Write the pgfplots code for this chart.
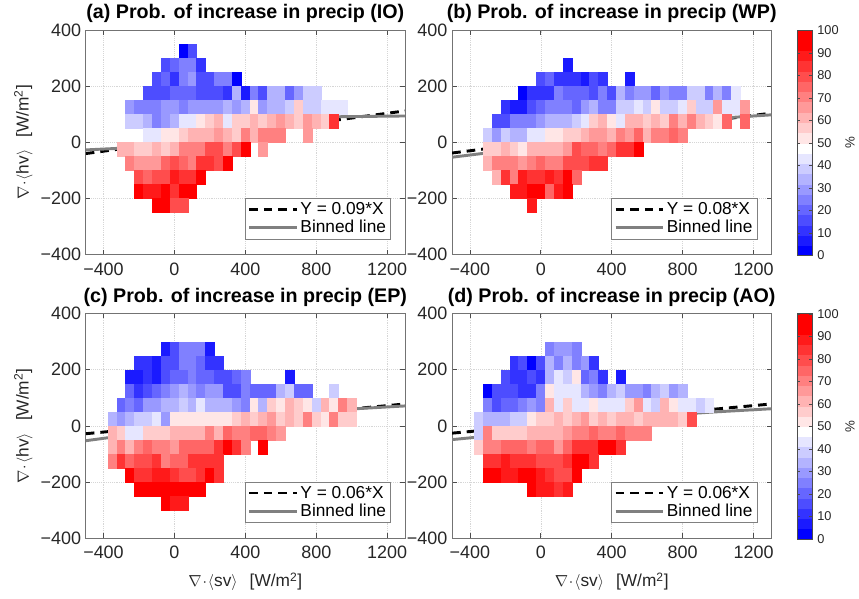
\documentclass[border=0pt]{standalone}
\usepackage{fontspec}
\setmainfont{Liberation Sans}
\usepackage{pgfplots}
\usepackage{pgfplotstable}
\pgfplotsset{compat=1.18}

% binned probabilities: x (sv), y (hv), p (%)
\pgfplotstableread[row sep=\\]{
x y p\\
50 325 2\\ 100 325 17\\
-50 275 17\\ 0 275 21\\ 50 275 26\\ 100 275 26\\ 150 275 12\\
-100 225 17\\ -50 225 21\\ 0 225 12\\ 50 225 26\\ 100 225 31\\ 150 225 17\\ 200 225 17\\ 250 225 26\\ 300 225 26\\ 350 225 2\\
-150 175 17\\ -100 175 17\\ -50 175 17\\ 0 175 21\\ 50 175 21\\ 100 175 21\\ 150 175 17\\ 200 175 17\\ 250 175 17\\ 300 175 12\\ 350 175 36\\ 400 175 7\\ 450 175 26\\ 500 175 17\\ 550 175 36\\ 600 175 36\\ 650 175 21\\ 700 175 31\\ 750 175 40\\ 800 175 40\\
-250 125 31\\ -200 125 26\\ -150 125 26\\ -100 125 26\\ -50 125 31\\ 0 125 31\\ 50 125 26\\ 100 125 31\\ 150 125 31\\ 200 125 31\\ 250 125 31\\ 300 125 36\\ 350 125 31\\ 400 125 36\\ 450 125 50\\ 500 125 31\\ 550 125 36\\ 600 125 36\\ 650 125 40\\ 700 125 55\\ 750 125 40\\ 800 125 40\\ 850 125 45\\ 900 125 45\\ 950 125 45\\
-250 75 40\\ -200 75 40\\ -150 75 36\\ -100 75 26\\ -50 75 31\\ 0 75 36\\ 50 75 45\\ 100 75 45\\ 150 75 50\\ 200 75 55\\ 250 75 60\\ 300 75 45\\ 350 75 55\\ 400 75 55\\ 450 75 60\\ 500 75 55\\ 550 75 60\\ 600 75 64\\ 650 75 60\\ 700 75 55\\ 750 75 64\\ 800 75 60\\ 850 75 55\\ 900 75 83\\
-150 25 45\\ -100 25 45\\ -50 25 50\\ 0 25 50\\ 50 25 55\\ 100 25 60\\ 150 25 60\\ 200 25 60\\ 250 25 64\\ 300 25 60\\ 350 25 55\\ 400 25 69\\ 450 25 60\\ 500 25 69\\ 550 25 69\\ 600 25 69\\ 750 25 64\\
-300 -25 60\\ -250 -25 60\\ -200 -25 55\\ -150 -25 55\\ -100 -25 60\\ -50 -25 55\\ 0 -25 60\\ 50 -25 69\\ 100 -25 69\\ 150 -25 69\\ 200 -25 79\\ 250 -25 79\\ 300 -25 69\\ 350 -25 79\\ 400 -25 93\\ 500 -25 64\\
-250 -75 69\\ -200 -75 64\\ -150 -75 64\\ -100 -75 64\\ -50 -75 74\\ 0 -75 79\\ 50 -75 74\\ 100 -75 69\\ 150 -75 83\\ 200 -75 83\\ 250 -75 79\\ 300 -75 93\\
-200 -125 79\\ -150 -125 74\\ -100 -125 79\\ -50 -125 79\\ 0 -125 88\\ 50 -125 83\\ 100 -125 83\\ 150 -125 93\\
-200 -175 93\\ -150 -175 88\\ -100 -175 88\\ -50 -175 98\\ 0 -175 83\\ 50 -175 93\\ 100 -175 98\\
-100 -225 98\\ -50 -225 98\\ 0 -225 79\\ 50 -225 79\\
}\tabIO

\pgfplotstableread[row sep=\\]{
x y p\\
150 275 7\\
0 225 17\\ 50 225 21\\ 100 225 12\\ 150 225 12\\ 200 225 12\\ 250 225 7\\ 300 225 17\\ 350 225 12\\ 500 225 7\\
-100 175 2\\ -50 175 12\\ 0 175 12\\ 50 175 12\\ 100 175 26\\ 150 175 21\\ 200 175 21\\ 250 175 21\\ 300 175 17\\ 350 175 26\\ 400 175 17\\ 450 175 36\\ 500 175 26\\ 550 175 31\\ 600 175 31\\ 650 175 21\\ 700 175 31\\ 750 175 26\\ 800 175 26\\ 850 175 40\\ 900 175 40\\ 950 175 26\\ 1000 175 36\\ 1050 175 26\\ 1100 175 45\\
-200 125 12\\ -150 125 7\\ -100 125 7\\ -50 125 17\\ 0 125 21\\ 50 125 26\\ 100 125 26\\ 150 125 26\\ 200 125 21\\ 250 125 31\\ 300 125 36\\ 350 125 26\\ 400 125 26\\ 450 125 40\\ 500 125 40\\ 550 125 45\\ 600 125 40\\ 650 125 50\\ 700 125 40\\ 750 125 40\\ 800 125 45\\ 850 125 55\\ 900 125 40\\ 950 125 40\\ 1000 125 64\\ 1050 125 45\\ 1100 125 45\\ 1150 125 64\\
-250 75 17\\ -200 75 17\\ -150 75 26\\ -100 75 26\\ -50 75 26\\ 0 75 31\\ 50 75 36\\ 100 75 36\\ 150 75 36\\ 200 75 40\\ 250 75 45\\ 300 75 55\\ 350 75 60\\ 400 75 50\\ 450 75 45\\ 500 75 60\\ 550 75 60\\ 600 75 55\\ 650 75 60\\ 700 75 55\\ 750 75 69\\ 800 75 60\\ 850 75 69\\ 900 75 60\\ 950 75 55\\ 1000 75 50\\ 1050 75 74\\ 1150 75 74\\
-300 25 40\\ -250 25 31\\ -200 25 40\\ -150 25 36\\ -100 25 36\\ -50 25 45\\ 0 25 45\\ 50 25 50\\ 100 25 50\\ 150 25 55\\ 200 25 55\\ 250 25 60\\ 300 25 64\\ 350 25 64\\ 400 25 60\\ 450 25 69\\ 500 25 64\\ 550 25 74\\ 600 25 60\\ 650 25 69\\ 700 25 69\\ 750 25 74\\ 800 25 69\\
-300 -25 55\\ -250 -25 55\\ -200 -25 60\\ -150 -25 55\\ -100 -25 50\\ -50 -25 60\\ 0 -25 60\\ 50 -25 60\\ 100 -25 60\\ 150 -25 64\\ 200 -25 79\\ 250 -25 74\\ 300 -25 74\\ 350 -25 69\\ 400 -25 74\\ 450 -25 83\\ 500 -25 83\\ 550 -25 93\\
-300 -75 60\\ -250 -75 69\\ -200 -75 69\\ -150 -75 69\\ -100 -75 64\\ -50 -75 69\\ 0 -75 74\\ 50 -75 69\\ 100 -75 69\\ 150 -75 79\\ 200 -75 79\\ 250 -75 79\\ 300 -75 83\\ 350 -75 83\\
-250 -125 60\\ -200 -125 83\\ -150 -125 69\\ -100 -125 88\\ -50 -125 83\\ 0 -125 83\\ 50 -125 88\\ 100 -125 83\\ 150 -125 93\\ 200 -125 74\\
-150 -175 88\\ -100 -175 88\\ -50 -175 93\\ 0 -175 93\\ 50 -175 74\\ 100 -175 88\\ 150 -175 98\\
-50 -225 88\\
}\tabWP

\pgfplotstableread[row sep=\\]{
x y p\\
-50 275 7\\ 0 275 17\\ 50 275 26\\ 100 275 26\\ 150 275 26\\ 200 275 7\\
-200 225 12\\ -150 225 12\\ -100 225 7\\ -50 225 17\\ 0 225 17\\ 50 225 26\\ 100 225 26\\ 150 225 21\\ 200 225 12\\ 250 225 12\\
-250 175 7\\ -200 175 7\\ -150 175 12\\ -100 175 7\\ -50 175 17\\ 0 175 21\\ 50 175 21\\ 100 175 26\\ 150 175 21\\ 200 175 21\\ 250 175 17\\ 300 175 17\\ 350 175 21\\ 400 175 26\\ 650 175 7\\
-250 125 21\\ -200 125 12\\ -150 125 17\\ -100 125 21\\ -50 125 26\\ 0 125 31\\ 50 125 36\\ 100 125 31\\ 150 125 26\\ 200 125 31\\ 250 125 31\\ 300 125 17\\ 350 125 17\\ 400 125 26\\ 450 125 21\\ 500 125 21\\ 550 125 21\\ 600 125 36\\ 650 125 40\\ 700 125 21\\ 750 125 21\\ 900 125 40\\
-300 75 21\\ -250 75 26\\ -200 75 21\\ -150 75 31\\ -100 75 31\\ -50 75 36\\ 0 75 36\\ 50 75 40\\ 100 75 36\\ 150 75 45\\ 200 75 36\\ 250 75 36\\ 300 75 36\\ 350 75 31\\ 400 75 26\\ 450 75 50\\ 500 75 36\\ 550 75 55\\ 600 75 50\\ 650 75 60\\ 700 75 55\\ 750 75 50\\ 800 75 40\\ 850 75 60\\ 900 75 50\\ 950 75 69\\ 1000 75 60\\
-350 25 36\\ -300 25 31\\ -250 25 36\\ -200 25 40\\ -150 25 40\\ -100 25 45\\ -50 25 31\\ 0 25 50\\ 50 25 50\\ 100 25 50\\ 150 25 50\\ 200 25 50\\ 250 25 50\\ 300 25 50\\ 350 25 55\\ 400 25 60\\ 450 25 55\\ 500 25 60\\ 550 25 64\\ 600 25 55\\ 650 25 60\\ 700 25 55\\ 750 25 69\\ 800 25 55\\ 850 25 50\\ 900 25 69\\ 950 25 55\\ 1000 25 55\\
-350 -25 60\\ -300 -25 55\\ -250 -25 45\\ -200 -25 45\\ -150 -25 55\\ -100 -25 55\\ -50 -25 55\\ 0 -25 60\\ 50 -25 60\\ 100 -25 60\\ 150 -25 60\\ 200 -25 69\\ 250 -25 60\\ 300 -25 74\\ 350 -25 69\\ 400 -25 69\\ 450 -25 74\\ 500 -25 74\\ 550 -25 69\\ 600 -25 64\\
-350 -75 60\\ -300 -75 69\\ -250 -75 60\\ -200 -75 69\\ -150 -75 74\\ -100 -75 69\\ -50 -75 69\\ 0 -75 64\\ 50 -75 74\\ 100 -75 74\\ 150 -75 74\\ 200 -75 74\\ 250 -75 83\\ 300 -75 93\\ 350 -75 83\\ 400 -75 69\\ 500 -75 93\\
-350 -125 69\\ -300 -125 83\\ -250 -125 74\\ -200 -125 79\\ -150 -125 79\\ -100 -125 83\\ -50 -125 69\\ 0 -125 74\\ 50 -125 74\\ 100 -125 83\\ 150 -125 83\\ 200 -125 83\\ 250 -125 83\\
-250 -175 98\\ -200 -175 83\\ -150 -175 83\\ -100 -175 88\\ -50 -175 88\\ 0 -175 83\\ 50 -175 79\\ 100 -175 79\\ 150 -175 83\\ 200 -175 93\\ 250 -175 83\\
-200 -225 98\\ -150 -225 98\\ -100 -225 93\\ -50 -225 98\\ 0 -225 93\\ 50 -225 93\\ 100 -225 93\\ 150 -225 98\\
-50 -275 98\\ 0 -275 88\\ 50 -275 88\\
}\tabEP

\pgfplotstableread[row sep=\\]{
x y p\\
50 275 26\\ 100 275 31\\ 150 275 31\\ 200 275 26\\
-150 225 12\\ -100 225 17\\ -50 225 2\\ 0 225 17\\ 50 225 36\\ 100 225 26\\ 150 225 36\\ 200 225 26\\ 250 225 31\\ 300 225 12\\
-200 175 17\\ -150 175 12\\ -100 175 12\\ -50 175 17\\ 0 175 12\\ 50 175 36\\ 100 175 45\\ 150 175 40\\ 200 175 50\\ 250 175 21\\ 300 175 26\\ 350 175 12\\ 450 175 7\\
-300 125 2\\ -250 125 17\\ -200 125 17\\ -150 125 17\\ -100 125 12\\ -50 125 12\\ 0 125 26\\ 50 125 50\\ 100 125 45\\ 150 125 45\\ 200 125 45\\ 250 125 36\\ 300 125 31\\ 350 125 26\\ 400 125 36\\ 450 125 40\\ 500 125 31\\ 550 125 31\\ 600 125 26\\ 650 125 36\\ 700 125 40\\ 750 125 31\\ 800 125 36\\
-300 75 26\\ -250 75 17\\ -200 75 21\\ -150 75 21\\ -100 75 26\\ -50 75 31\\ 0 75 26\\ 50 75 60\\ 100 75 45\\ 150 75 55\\ 200 75 45\\ 250 75 45\\ 300 75 50\\ 350 75 45\\ 400 75 45\\ 450 75 45\\ 500 75 55\\ 550 75 64\\ 600 75 45\\ 650 75 40\\ 700 75 60\\ 750 75 50\\ 800 75 45\\ 850 75 45\\ 900 75 40\\ 950 75 45\\
-350 25 40\\ -300 25 36\\ -250 25 36\\ -200 25 36\\ -150 25 40\\ -100 25 40\\ -50 25 50\\ 0 25 55\\ 50 25 55\\ 100 25 60\\ 150 25 55\\ 200 25 60\\ 250 25 64\\ 300 25 55\\ 350 25 60\\ 400 25 55\\ 450 25 60\\ 500 25 60\\ 550 25 55\\ 600 25 60\\ 650 25 60\\ 700 25 60\\ 750 25 60\\ 800 25 55\\ 850 25 79\\
-350 -25 40\\ -300 -25 69\\ -250 -25 55\\ -200 -25 55\\ -150 -25 55\\ -100 -25 55\\ -50 -25 60\\ 0 -25 60\\ 50 -25 60\\ 100 -25 60\\ 150 -25 64\\ 200 -25 69\\ 250 -25 69\\ 300 -25 74\\ 350 -25 69\\ 400 -25 69\\ 450 -25 74\\ 500 -25 69\\ 550 -25 69\\ 600 -25 69\\
-350 -75 55\\ -300 -75 69\\ -250 -75 69\\ -200 -75 74\\ -150 -75 74\\ -100 -75 74\\ -50 -75 69\\ 0 -75 74\\ 50 -75 74\\ 100 -75 64\\ 150 -75 74\\ 200 -75 83\\ 250 -75 83\\ 300 -75 83\\ 350 -75 98\\ 400 -75 98\\ 450 -75 83\\
-300 -125 83\\ -250 -125 83\\ -200 -125 88\\ -150 -125 83\\ -100 -125 83\\ -50 -125 83\\ 0 -125 79\\ 50 -125 79\\ 100 -125 79\\ 150 -125 83\\ 200 -125 93\\ 250 -125 93\\ 300 -125 83\\
-300 -175 93\\ -250 -175 93\\ -200 -175 88\\ -150 -175 88\\ -100 -175 93\\ -50 -175 98\\ 0 -175 88\\ 50 -175 83\\ 100 -175 79\\ 150 -175 79\\ 200 -175 98\\
-50 -225 98\\ 0 -225 88\\ 50 -225 88\\ 100 -225 83\\ 150 -225 88\\
}\tabAO

\pgfplotsset{
  colormap={bwr}{
    rgb255=(0,0,255) rgb255=(26,26,255) rgb255=(51,51,255) rgb255=(77,77,255)
    rgb255=(102,102,255) rgb255=(128,128,255) rgb255=(153,153,255) rgb255=(179,179,255)
    rgb255=(204,204,255) rgb255=(230,230,255) rgb255=(255,255,255)
    rgb255=(255,230,230) rgb255=(255,204,204) rgb255=(255,179,179) rgb255=(255,153,153)
    rgb255=(255,128,128) rgb255=(255,102,102) rgb255=(255,77,77) rgb255=(255,51,51)
    rgb255=(255,26,26) rgb255=(255,0,0) rgb255=(255,0,0)
  },
  hmpanel/.style={
    width=240pt, height=168.75pt, scale only axis,
    xmin=-500, xmax=1300, ymin=-400, ymax=400,
    xtick={-400,0,400,800,1200}, xticklabels={−400,0,400,800,1200},
    ytick={-400,-200,0,200,400}, yticklabels={−400,−200,0,200,400},
    tick align=inside, major tick length=3.5pt,
    tick style={black!70, line width=0.5pt},
    axis line style={black!55, line width=0.5pt},
    grid=major, major grid style={densely dotted, black!16, line width=0.4pt},
    ticklabel style={font=\fontsize{13.5}{15}\selectfont, text=black!85},
    xticklabel style={yshift=-2.5pt},
    label style={font=\fontsize{13}{15}\selectfont, text=black!85},
    % y label is rotated by 90 degrees, so its yshift moves it to the left
    ylabel style={at={(0,0.5)}, anchor=center, yshift=46.9pt},
    xlabel style={at={(0.5,0)}, anchor=center, yshift=-32.8pt},
    title style={font=\bfseries\fontsize{14.8}{16}\selectfont, yshift=-4pt},
    colormap name=bwr, colormap access=piecewise constant,
    point meta min=0, point meta max=100,
    legend style={at={(1,0)}, anchor=south east, xshift=-10.5pt, yshift=11.5pt,
      draw=black!50, font=\fontsize{13}{15}\selectfont, legend cell align=left,
      inner xsep=2pt, inner ysep=1.5pt, nodes={inner sep=1.5pt}},
    legend image code/.code={\draw[##1] (0pt,0pt) -- (36pt,0pt);},
  },
  hmcells/.style={scatter, only marks, mark=square*, mark size=5.273pt,
    mark options={xscale=0.6321, line width=0.25pt},
    scatter/use mapped color={draw=mapped color, fill=mapped color},
    point meta=explicit, forget plot},
  hmfit/.style={black, line width=2.2pt, dash pattern=on 6.5pt off 4.5pt},
  hmbin/.style={black!50, line width=2.2pt},
  % the default colorbar shift adds about 0.3cm to the one given here
  hmcbar/.style={colorbar, colorbar style={
    at={(parent axis.north east)}, anchor=north west, xshift=10.8pt,
    scale only axis, width=11.8pt, height=169.5pt,
    ytick={0,10,...,100}, yticklabels={0,10,20,30,40,50,60,70,80,90,100},
    tick align=inside, major tick length=2.5pt,
    tick style={black!70}, axis line style={black!70},
    yticklabel style={font=\fontsize{9.6}{11}\selectfont, text=black!85},
    ylabel={\%}, ylabel style={at={(1,0.5)}, anchor=center, yshift=-28pt,
      font=\fontsize{10}{12}\selectfont, text=black!85},
  }},
}

\begin{document}
\begin{tikzpicture}
\begin{axis}[hmpanel, at={(0pt,0pt)}, anchor=north west,
  title={(a) Prob. of increase in precip (IO)},
  ylabel={$\nabla\!\cdot\!\langle\mbox{hv}\rangle$\hspace{0.7em}[W/m\textsuperscript{2}]}]
  \addplot[hmcells] table[x=x, y=y, meta=p] {\tabIO};
  \addplot[hmfit] coordinates {(-500,-40) (1300,112)};
  \addplot[hmbin] coordinates {(-500,-27) (-271,-20) (-103,-6) (0,12) (140,33) (308,56) (402,65) (607,81) (888,91) (1300,94)};
  \legend{Y = 0.09*X, Binned line}
\end{axis}

\begin{axis}[hmpanel, hmcbar, at={(275.5pt,0pt)}, anchor=north west,
  title={(b) Prob. of increase in precip (WP)}]
  \addplot[hmcells] table[x=x, y=y, meta=p] {\tabWP};
  \addplot[hmfit] coordinates {(-500,-38) (1300,104)};
  \addplot[hmbin] coordinates {(-500,-53) (-294,-37) (-106,-17) (6,3) (157,29) (307,42) (494,56) (681,67) (869,79) (1056,88) (1300,98)};
  \legend{Y = 0.08*X, Binned line}
\end{axis}

\begin{axis}[hmpanel, at={(0pt,-213.2pt)}, anchor=north west,
  title={(c) Prob. of increase in precip (EP)},
  ylabel={$\nabla\!\cdot\!\langle\mbox{hv}\rangle$\hspace{0.7em}[W/m\textsuperscript{2}]},
  xlabel={$\nabla\!\cdot\!\langle\mbox{sv}\rangle$\hspace{0.7em}[W/m\textsuperscript{2}]}]
  \addplot[hmcells] table[x=x, y=y, meta=p] {\tabEP};
  \addplot[hmfit] coordinates {(-500,-28) (1300,78)};
  \addplot[hmbin] coordinates {(-500,-53) (-347,-40) (-178,-25) (0,-2) (141,14) (328,27) (516,37) (703,49) (891,56) (1078,63) (1300,71)};
  \legend{Y = 0.06*X, Binned line}
\end{axis}

\begin{axis}[hmpanel, hmcbar, at={(275.5pt,-213.2pt)}, anchor=north west,
  title={(d) Prob. of increase in precip (AO)},
  xlabel={$\nabla\!\cdot\!\langle\mbox{sv}\rangle$\hspace{0.7em}[W/m\textsuperscript{2}]}]
  \addplot[hmcells] table[x=x, y=y, meta=p] {\tabAO};
  \addplot[hmfit] coordinates {(-500,-26) (1300,78)};
  \addplot[hmbin] coordinates {(-500,-49) (-256,-34) (6,-10) (213,12) (400,25) (681,37) (963,49) (1300,61)};
  \legend{Y = 0.06*X, Binned line}
\end{axis}
% page frame matching the reference margins
\path (-64.5pt,20.8pt) rectangle (579.75pt,-427.7pt);
\end{tikzpicture}
\end{document}
